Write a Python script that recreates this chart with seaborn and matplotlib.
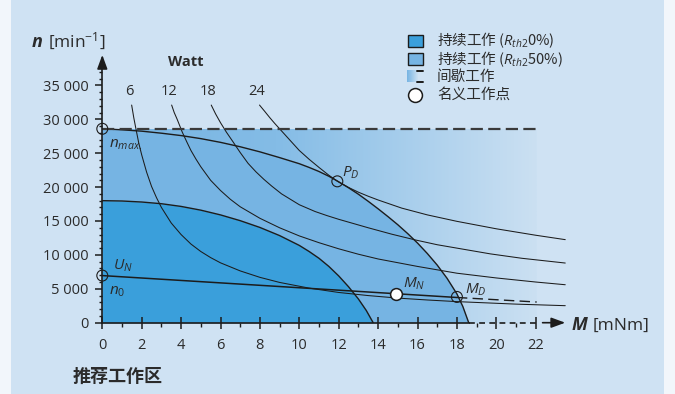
import numpy as np
import matplotlib
matplotlib.use("Agg")
import matplotlib.pyplot as plt
import seaborn as sns
from matplotlib.colors import LinearSegmentedColormap
from matplotlib.patches import Rectangle
from matplotlib.lines import Line2D

# ---------------- data ----------------
# maximum permissible speed and the torque up to which it is drawn
n_max = 28600
n_max_end = 22.05

# continuous operation boundary, Rth2 50 %
cont50_M = [0, 1, 2, 3, 4, 5, 6, 7, 8, 9, 10, 10.5, 11, 11.5, 11.93, 12.5, 13, 13.5, 14, 14.5,
            15, 15.5, 16, 16.5, 17, 17.5, 18, 18.3, 18.6]
cont50_n = [28600, 28450, 28250, 27950, 27600, 27150, 26600, 25950, 25200, 24350, 23450, 22900,
            22300, 21600, 20900, 19900, 18950, 17900, 16800, 15650, 14450, 13150, 11750, 10200,
            8500, 6550, 4250, 2400, 0]

# continuous operation boundary, Rth2 0 %
cont0_M = [0, 1, 2, 3, 4, 5, 6, 7, 8, 9, 10, 10.5, 11, 11.5, 12, 12.5, 13, 13.4, 13.75]
cont0_n = [18000, 17950, 17800, 17550, 17150, 16600, 15900, 15050, 14050, 12850, 11400, 10500,
           9500, 8300, 6900, 5300, 3500, 1800, 0]

# constant output power curves
watt_labels = ["6", "12", "18", "24"]
w6_M = [1.49, 1.6, 1.7, 1.85, 2.0, 2.25, 2.5, 2.75, 3.0, 3.5, 4.0, 4.5, 5.0, 5.5, 6.0, 7.0, 8.0,
        9.0, 10.5, 12.0, 13.5, 15.0, 16.5, 18.0, 21.0, 23.5]
w6_n = [32100, 30200, 28700, 26500, 24750, 22200, 20100, 18450, 17000, 14700, 13000, 11600,
        10500, 9600, 8830, 7640, 6690, 5940, 5100, 4460, 4000, 3630, 3350, 3110, 2740, 2510]
w12_M = [3.52, 3.65, 3.8, 4.06, 4.3, 4.5, 4.75, 5.0, 5.5, 6.0, 6.5, 7.0, 8.0, 9.0, 10.0, 11.0,
         12.0, 13.0, 14.0, 16.0, 18.0, 20.0, 22.0, 23.5]
w12_n = [32100, 31000, 30000, 28100, 26600, 25400, 24150, 23000, 21000, 19500, 18200, 17100,
         15400, 14000, 12800, 11800, 10900, 10100, 9400, 8300, 7300, 6600, 6000, 5600]
w18_M = [5.53, 5.75, 6.0, 6.3, 6.63, 7.0, 7.4, 7.8, 8.2, 8.6, 9.1, 10.0, 10.8, 11.4, 12.0, 13.5,
         14.7, 15.9, 17.0, 18.2, 19.7, 21.3, 23.5]
w18_n = [32100, 30800, 29500, 28100, 26700, 25100, 23500, 22250, 21150, 20150, 19000, 17400,
         16400, 15800, 15250, 14000, 13050, 12200, 11500, 10900, 10150, 9500, 8800]
w24_M = [7.98, 8.25, 8.5, 8.75, 9.0, 9.5, 10.0, 10.5, 11.0, 11.5, 11.93, 12.5, 13.0, 13.5, 14.0,
         15.2, 16.5, 18.0, 20.0, 22.0, 23.5]
w24_n = [32100, 31150, 30250, 29400, 28600, 27000, 25400, 24100, 22900, 21750, 20870, 19950,
         19250, 18650, 18100, 16900, 15900, 14950, 13850, 12900, 12250]

# speed-torque line at nominal voltage
un_M = [0, 18.0]
un_n = [6950, 3720]
un_ext_M = [18.0, 22.05]
un_ext_n = [3720, 3050]

# characteristic points
nmax_pt = (0, 28600)
n0_pt = (0, 6950)
PD_pt = (11.93, 20850)
MD_pt = (18.0, 3800)
MN_pt = (14.9, 4280)

x_ticks = [0, 2, 4, 6, 8, 10, 12, 14, 16, 18, 20, 22]
x_minor = [1, 3, 5, 7, 9, 11, 13, 15, 17, 19, 21]
y_ticks = [0, 5000, 10000, 15000, 20000, 25000, 30000, 35000]
y_tick_labels = ["0", "5 000", "10 000", "15 000", "20 000", "25 000", "30 000", "35 000"]

legend_labels = ["持续工作 ($R_{th2}$0%)", "持续工作 ($R_{th2}$50%)", "间歇工作", "名义工作点"]

# ---------------- style ----------------
BG = "#cfe2f3"
DARK = "#3a9fdb"
MID = "#76b4e3"
INK = "#1c1c1c"
TXT = "#2b2b2b"

sns.set_theme(style="ticks")
plt.rcParams["font.family"] = ["Open Sans", "Noto Sans CJK SC", "DejaVu Sans"]
plt.rcParams["mathtext.fontset"] = "custom"
plt.rcParams["mathtext.rm"] = "Open Sans"
plt.rcParams["mathtext.it"] = "Open Sans:italic"
plt.rcParams["mathtext.bf"] = "Open Sans:bold"

W, H = 675, 394
fig = plt.figure(figsize=(W / 100, H / 100), dpi=100, facecolor="#f2f6fb")
fig.patches.append(Rectangle((11 / W, 0), (664 - 11) / W, 1, transform=fig.transFigure,
                             facecolor=BG, edgecolor="none", zorder=-10))


def fx(px):
    return px / W


def fy(py):
    return 1 - py / H


# axes placement: origin pixel and pixel scale per unit
X0, Y0 = 102.3, 322.7
PX_M, PX_N = 19.7, 6.78 / 1000
XMAX, YMAX = 24, 40000
ax = fig.add_axes([X0 / W, (H - Y0) / H, XMAX * PX_M / W, YMAX * PX_N / H])
ax.set_facecolor("none")

# intermittent operation range: fading band below n_max
fade = LinearSegmentedColormap.from_list("fade", [(0, MID), (0.4, "#84bce6"), (1, "#cbe0f2")])
ax.imshow(np.linspace(0, 1, 256)[None, :], extent=(0, n_max_end, 0, n_max), aspect="auto",
          cmap=fade, interpolation="bilinear", zorder=0.5)

# continuous operation ranges
ax.fill_between(cont50_M, cont50_n, 0, color=MID, lw=0, zorder=0.6)
ax.fill_between(cont0_M, cont0_n, 0, color=DARK, lw=0, zorder=0.7)


def curve(M, n, lw, **kw):
    sns.lineplot(x=M, y=n, ax=ax, color=kw.pop("color", INK), lw=lw, estimator=None,
                 sort=False, legend=False, zorder=kw.pop("zorder", 4), **kw)


curve(cont50_M, cont50_n, 1.0)
curve(cont0_M, cont0_n, 1.0)
for M, n in [(w6_M, w6_n), (w12_M, w12_n), (w18_M, w18_n), (w24_M, w24_n)]:
    curve(M, n, 0.75)
curve(un_M, un_n, 1.1)
curve(un_ext_M, un_ext_n, 1.0, linestyle=(0, (7.5, 3.8)))
curve([0, n_max_end], [n_max, n_max], 1.6, linestyle=(0, (5.5, 2.4)), color="#3a3a3a")

# power labels above each curve
ax.text(4.25, 38450, "Watt", ha="center", va="center", fontsize=10.5, fontweight="bold", color=TXT)
for lab, M, n in zip(watt_labels, [w6_M, w12_M, w18_M, w24_M], [w6_n, w12_n, w18_n, w24_n]):
    ax.annotate(lab, (M[0], n[0]), xytext=(-2, 10), textcoords="offset points",
                ha="center", va="center", fontsize=10.5, color=TXT)

# characteristic points
hollow = [nmax_pt, n0_pt, PD_pt, MD_pt]
sns.scatterplot(x=[p[0] for p in hollow], y=[p[1] for p in hollow], ax=ax, s=62, marker="o",
                facecolor="none", edgecolor=INK, linewidth=0.8, zorder=6, clip_on=False, legend=False)
sns.scatterplot(x=[MN_pt[0]], y=[MN_pt[1]], ax=ax, s=72, marker="o", facecolor="white",
                edgecolor=INK, linewidth=1.1, zorder=7, legend=False)

lab_kw = dict(textcoords="offset points", ha="left", va="baseline", fontsize=11, color=TXT,
              annotation_clip=False)
ax.annotate("$n_{max.}$", nmax_pt, xytext=(4.8, -13.2), **lab_kw)
ax.annotate("$U_N$", n0_pt, xytext=(7.7, 4.1), **lab_kw)
ax.annotate("$n_0$", n0_pt, xytext=(4.8, -13.9), **lab_kw)
ax.annotate("$P_D$", PD_pt, xytext=(3.6, 3.4), **lab_kw)
ax.annotate("$M_N$", MN_pt, xytext=(5.0, 4.3), **lab_kw)
ax.annotate("$M_D$", MD_pt, xytext=(6.0, 2.7), **lab_kw)

# axes, ticks and arrows
ax.set_xlim(0, XMAX)
ax.set_ylim(0, YMAX)
ax.set_axisbelow(False)
for s in ["top", "right"]:
    ax.spines[s].set_visible(False)
for s in ["left", "bottom"]:
    ax.spines[s].set_color(INK)
    ax.spines[s].set_linewidth(1.2)
    ax.spines[s].set_zorder(5)
ax.spines["left"].set_bounds(0, 38500)
ax.spines["bottom"].set_bounds(0, 18.6)
curve([18.6, 22.0], [0, 0], 1.2, linestyle=(0, (3.5, 2.6)), clip_on=False, zorder=5)
arrow = dict(arrowstyle="-|>,head_length=0.6,head_width=0.22", mutation_scale=14, lw=1.2,
             color=INK, shrinkA=0, shrinkB=0)
ax.annotate("", xy=(23.5, 0), xytext=(22.35, 0), arrowprops=arrow, annotation_clip=False)
ax.annotate("", xy=(0, 39500), xytext=(0, 38000), arrowprops=arrow, annotation_clip=False)

ax.set_xticks(x_ticks)
ax.set_xticklabels([str(v) for v in x_ticks])
ax.set_xticks(x_minor, minor=True)
ax.set_yticks(y_ticks)
ax.set_yticklabels(y_tick_labels)
ax.set_yticks([v for v in range(1000, 38000, 1000) if v % 5000], minor=True)
ax.tick_params(bottom=True, left=True, which="both", color=INK, labelcolor=TXT)
ax.tick_params(axis="x", which="major", direction="inout", length=8, width=1.1, pad=7, labelsize=10.5)
ax.tick_params(axis="x", which="minor", direction="out", length=3, width=1.0)
ax.tick_params(axis="y", which="major", direction="out", length=5, width=1.1, pad=5, labelsize=10.5)
ax.tick_params(axis="y", which="minor", direction="out", length=2.5, width=1.0)
ax.set_xlabel("")
ax.set_ylabel("")

# axis titles
fig.text(fx(32), fy(47), "n", fontsize=13, fontweight="bold", style="italic", color=TXT, va="baseline")
fig.text(fx(48), fy(47), "[min$^{-1}$]", fontsize=12.5, color=TXT, va="baseline")
fig.text(fx(572), fy(330), "M", fontsize=13, fontweight="bold", style="italic", color=TXT, va="baseline")
fig.text(fx(593), fy(330), "[mNm]", fontsize=12.5, color=TXT, va="baseline")
fig.text(fx(117.5), fy(376), "推荐工作区", fontsize=13, fontweight="bold", color=TXT,
         ha="center", va="center", family=["Noto Sans CJK SC", "DejaVu Sans"])

# legend
fig.patches.append(Rectangle((fx(407.5), fy(47)), 15.5 / W, 11.7 / H, transform=fig.transFigure,
                             facecolor=DARK, edgecolor=INK, lw=1.0))
fig.patches.append(Rectangle((fx(407.5), fy(65)), 15.5 / W, 11.7 / H, transform=fig.transFigure,
                             facecolor=MID, edgecolor=INK, lw=1.0))
sw = fig.add_axes([fx(407), fy(82), 10.5 / W, 12 / H])
sw.imshow(np.linspace(0, 1, 64)[None, :], aspect="auto",
          cmap=LinearSegmentedColormap.from_list("sw", [MID, "#cbe0f2"]))
sw.set_axis_off()
for yy in (70.8, 81.5):
    fig.lines.append(Line2D([fx(416.5), fx(422.5)], [fy(yy), fy(yy)], transform=fig.transFigure,
                            color=INK, lw=1.4))
fig.lines.append(Line2D([fx(415)], [fy(95)], transform=fig.transFigure, marker="o", ms=10,
                        mfc="white", mec=INK, mew=1.1, ls="none"))
for lab, yy in zip(legend_labels, [40.2, 59.2, 77, 95]):
    fig.text(fx(437), fy(yy), lab, fontsize=10.5, color=TXT, va="center", ha="left",
             family=["Noto Sans CJK SC", "DejaVu Sans"])

fig.savefig("out.png", dpi=100, facecolor=fig.get_facecolor())
